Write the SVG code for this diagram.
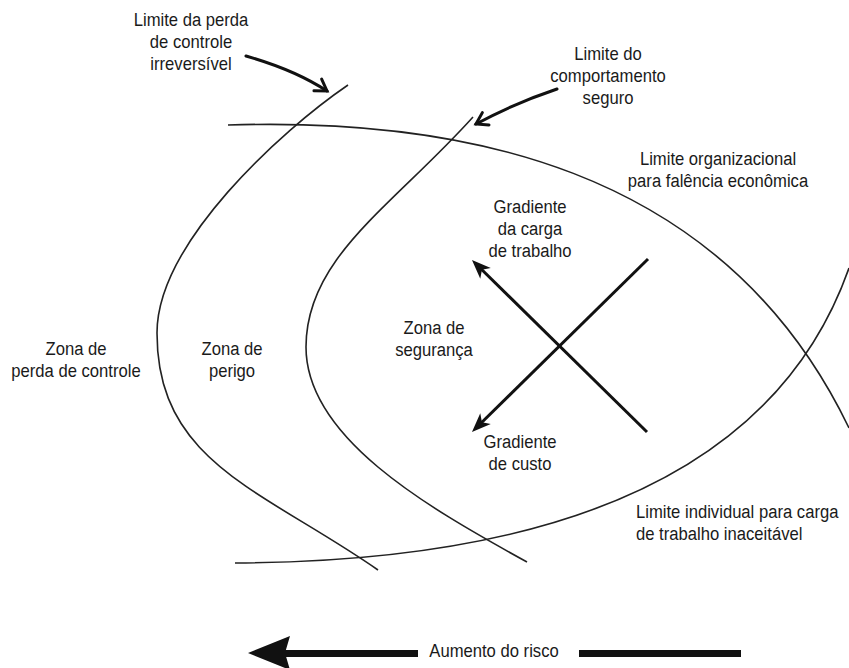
<svg xmlns="http://www.w3.org/2000/svg" width="849" height="668" viewBox="0 0 849 668">
<style>
  .lbl { font-family: "Liberation Sans", Arial, sans-serif; font-size: 18.5px; fill: #1a1a1a; text-anchor: middle; }
  .lft { text-anchor: start; }
  .curve { fill: none; stroke: #222; stroke-width: 1.6; }
  .grad { fill: none; stroke: #111; stroke-width: 3; }
  .call { fill: none; stroke: #111; stroke-width: 3; stroke-linecap: round; }
  .bar { fill: #111; }
</style>
<defs>
  <marker id="solidHead" markerUnits="userSpaceOnUse" viewBox="-11 -9 23 18" markerWidth="23" markerHeight="18" refX="0" refY="0" orient="auto">
    <path d="M10,0 L-9,-7.5 L-4,0 L-9,7.5 Z" fill="#111"/>
  </marker>
  <marker id="openHead" markerUnits="userSpaceOnUse" viewBox="-15 -10 19 20" markerWidth="19" markerHeight="20" refX="0" refY="0" orient="auto">
    <path d="M-11,-7 L0,0 L-11,7" fill="none" stroke="#111" stroke-width="3" stroke-linejoin="miter" stroke-linecap="round"/>
  </marker>
</defs>
<rect width="849" height="668" fill="#fff"/>

<g id="boundaries">
  <path id="limit-irreversible" class="curve" d="M348,85 C282,130 157,243 157,333 C157,463 263,490 378,570"/>
  <path id="limit-safe" class="curve" d="M473,117 C393,206 306,257 306,347 C306,437 425,506 527,562"/>
  <path id="limit-economic" class="curve" d="M228,125 C450,118 720,160 849,428"/>
  <path id="limit-workload" class="curve" d="M235,563 C460,562 760,520 849,268"/>
</g>

<g id="connectors">
  <line class="grad" x1="647" y1="432" x2="479.1" y2="267" marker-end="url(#solidHead)"/>
  <line class="grad" x1="648" y1="259" x2="479.1" y2="425" marker-end="url(#solidHead)"/>
  <path class="call" d="M246,56 Q295,70 327,91" marker-end="url(#openHead)"/>
  <path class="call" d="M557,89 Q515,103 476,124" marker-end="url(#openHead)"/>
  <g id="risk-arrow">
    <polygon class="bar" points="248,653 290,636 285,653 290,670"/>
    <rect class="bar" x="284" y="650" width="134" height="7"/>
    <rect class="bar" x="579" y="650" width="162" height="7"/>
  </g>
</g>

<g id="label-irreversible">
  <text class="lbl" transform="translate(191,26) scale(0.9,1)"><tspan x="0" y="0">Limite da perda</tspan><tspan x="0" y="22">de controle</tspan><tspan x="0" y="44">irreversível</tspan></text>
</g>
<g id="label-safe">
  <text class="lbl" transform="translate(608,60) scale(0.9,1)"><tspan x="0" y="0">Limite do</tspan><tspan x="0" y="22">comportamento</tspan><tspan x="0" y="44">seguro</tspan></text>
</g>
<g id="label-economic">
  <text class="lbl" transform="translate(718,165) scale(0.9,1)"><tspan x="0" y="0">Limite organizacional</tspan><tspan x="0" y="22">para falência econômica</tspan></text>
</g>
<g id="label-workload-gradient">
  <text class="lbl" transform="translate(530,213) scale(0.9,1)"><tspan x="0" y="0">Gradiente</tspan><tspan x="0" y="22">da carga</tspan><tspan x="0" y="44">de trabalho</tspan></text>
</g>
<g id="zone-loss">
  <text class="lbl" transform="translate(76,355) scale(0.9,1)"><tspan x="0" y="0">Zona de</tspan><tspan x="0" y="22">perda de controle</tspan></text>
</g>
<g id="zone-danger">
  <text class="lbl" transform="translate(232,355) scale(0.9,1)"><tspan x="0" y="0">Zona de</tspan><tspan x="0" y="22">perigo</tspan></text>
</g>
<g id="zone-safety">
  <text class="lbl" transform="translate(434,334) scale(0.9,1)"><tspan x="0" y="0">Zona de</tspan><tspan x="0" y="22">segurança</tspan></text>
</g>
<g id="label-cost-gradient">
  <text class="lbl" transform="translate(520,448) scale(0.9,1)"><tspan x="0" y="0">Gradiente</tspan><tspan x="0" y="22">de custo</tspan></text>
</g>
<g id="label-workload-limit">
  <text class="lbl lft" transform="translate(636,518) scale(0.9,1)"><tspan x="0" y="0">Limite individual para carga</tspan><tspan x="0" y="22">de trabalho inaceitável</tspan></text>
</g>
<g id="label-risk">
  <text class="lbl" transform="translate(494,657) scale(0.9,1)">Aumento do risco</text>
</g>
</svg>
